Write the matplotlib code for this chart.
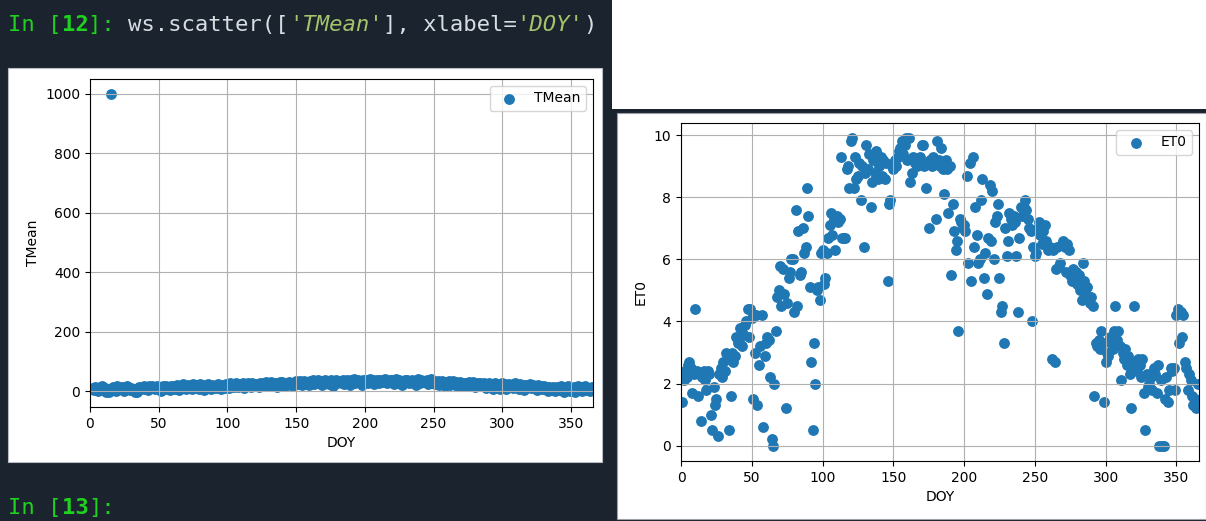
import matplotlib
matplotlib.use("Agg")
import matplotlib.pyplot as plt
from matplotlib.patches import Rectangle

W, H = 1206, 521
DARK = "#1b232e"
BLUE = "#1f77b4"

# ---------------- data ----------------
tmean_jan = [7, 12, 3, 15, 9, 0, 13, 10, 17, 5, 12, -2, 8, -3, 1000, 6, 14, 11, 2, 17,
             12, 6, 15, 9, 0, 13, 16, 10, 4, 12, 8]
tmean_feb = [3, -3, -2, 10, 15, 6, 12, 17, 8, 13, 4, 16, 10, 18, 12, 6, 14, 17, 8, 13,
             2, 16, 11, 19, 9, 15, 5, 17]
tmean_mar = [12, 18, 7, 21, 14, 4, 19, 11, 23, 16, 8, 21, 13, 19, 6, 24, 17, 10, 21, 9,
             23, 15, 19, 5, 22, 13, 25, 17, 9, 21, 15]
tmean_apr = [19, 10, 23, 15, 7, 21, 16, 11, 24, 19, 12, 26, 18, 22, 13, 27, 20, 14, 25, 17,
             28, 12, 23, 16, 26, 20, 15, 27, 21, 24]
tmean_may = [18, 25, 15, 29, 21, 26, 16, 30, 23, 19, 27, 31, 20, 24, 29, 14, 26, 30, 21, 32,
             24, 17, 29, 25, 31, 22, 27, 19, 30, 33, 24]
tmean_jun = [27, 33, 22, 30, 35, 25, 31, 20, 34, 28, 36, 23, 32, 29, 37, 26, 35, 22, 31, 38,
             27, 34, 24, 36, 30, 19, 35, 37, 28, 32]
tmean_jul = [35, 29, 38, 25, 34, 39, 31, 22, 37, 32, 40, 27, 35, 38, 30, 34, 20, 39, 31, 37,
             26, 35, 40, 32, 38, 24, 34, 39, 29, 36, 31]
tmean_aug = [37, 31, 40, 27, 35, 39, 30, 36, 24, 33, 40, 29, 37, 32, 21, 35, 39, 30, 36, 26,
             34, 38, 29, 35, 20, 32, 40, 27, 36, 30, 33]
tmean_sep = [30, 37, 25, 32, 41, 28, 34, 23, 31, 35, 22, 30, 34, 26, 18, 31, 25, 33, 21, 28,
             34, 23, 30, 19, 27, 32, 22, 29, 16, 26]
tmean_oct = [28, 22, 31, 18, 25, 30, 15, 24, 28, 20, 29, 16, 23, 27, 12, 22, 28, 18, 25, 9,
             21, 27, 15, 24, 6, 20, 26, 14, 23, 7, 19]
tmean_nov = [25, 16, 22, 11, 26, 18, 21, 8, 24, 15, 20, 5, 22, 14, 19, 25, 10, 21, 13, 17,
             3, 20, 12, 16, 7, 19, 9, 15, 1, 14]
tmean_dec = [12, 5, 15, 0, 10, 14, 3, 12, 17, 7, -2, 13, 9, 16, 2, 12, 6, 15, -3, 10,
             17, 4, 13, -1, 9, 16, 3, 12, 7, 0, 15]
tmean = (tmean_jan + tmean_feb + tmean_mar + tmean_apr + tmean_may + tmean_jun +
         tmean_jul + tmean_aug + tmean_sep + tmean_oct + tmean_nov + tmean_dec)

et0_001 = [1.4, 2.1, 2.4, 2.2, 2.6, 2.7, 2.5, 1.7, 2.3, 4.4, 2.4, 1.6, 2.3, 0.8, 2.2,
           2.4, 2.1, 1.8, 2.4, 2.3, 1.0, 0.5, 1.9, 1.3, 1.5, 0.3, 2.3, 2.5, 2.2, 2.7]
et0_031 = [2.4, 3.0, 2.8, 0.5, 1.6, 3.0, 2.7, 2.9, 3.5, 3.3, 3.4, 3.8, 3.2, 3.6, 3.9,
           4.0, 4.4, 3.5, 4.4, 4.1, 1.5, 3.0, 4.2, 1.3, 2.6, 3.2, 4.2, 0.6, 2.9, 3.3]
et0_061 = [3.5, 3.4, 2.2, 0.2, 0.0, 2.0, 3.7, 4.8, 5.0, 5.8, 4.5, 5.7, 4.9, 1.2, 4.6,
           5.4, 5.6, 6.0, 6.0, 4.3, 7.6, 4.5, 6.9, 5.5, 5.6, 7.0, 6.2, 6.4, 8.3, 7.4]
et0_091 = [5.1, 2.7, 0.5, 3.3, 2.0, 5.0, 5.1, 4.7, 6.2, 6.3, 5.2, 5.4, 6.2, 6.7, 7.1,
           7.5, 6.8, 7.3, 6.3, 7.4, 7.2, 7.3, 9.3, 6.7, 6.7, 6.7, 8.9, 9.0, 8.3, 9.8]
et0_121 = [9.9, 8.3, 9.3, 8.6, 8.7, 9.1, 7.9, 9.0, 6.4, 8.8, 9.7, 8.9, 9.4, 7.7, 8.5,
           9.2, 8.8, 9.5, 8.6, 9.0, 9.3, 8.7, 9.2, 8.6, 9.1, 5.3, 7.8, 7.9, 9.0, 8.9]
et0_151 = [9.2, 9.0, 9.3, 9.5, 9.6, 9.8, 9.4, 9.7, 9.9, 9.2, 9.9, 8.5, 8.8, 9.3, 9.1,
           9.2, 9.0, 9.1, 9.3, 9.7, 9.7, 9.0, 8.3, 9.1, 7.0, 9.2, 9.0, 9.3, 9.1, 7.3]
et0_181 = [9.8, 9.2, 9.0, 9.6, 8.9, 8.1, 9.2, 8.9, 7.5, 9.0, 5.5, 7.8, 6.9, 6.3, 6.6,
           3.7, 7.3, 7.2, 7.0, 7.1, 6.9, 8.7, 5.9, 9.1, 5.3, 9.3, 6.4, 7.7, 6.8, 5.9]
et0_211 = [6.0, 7.9, 8.6, 5.4, 6.2, 4.9, 6.7, 8.4, 6.6, 8.2, 6.0, 7.2, 7.4, 7.8, 5.4,
           4.3, 4.5, 3.3, 7.0, 6.1, 6.6, 7.5, 7.3, 7.1, 7.4, 7.2, 6.1, 4.3, 6.7, 7.7]
et0_241 = [7.4, 7.7, 7.9, 7.6, 7.3, 7.0, 6.9, 4.0, 6.4, 6.1, 6.2, 7.0, 7.2, 6.8, 6.5,
           6.9, 7.1, 6.6, 6.3, 6.4, 6.4, 2.8, 6.3, 2.7, 5.7, 6.4, 5.8, 5.9, 6.5, 6.6]
et0_271 = [6.4, 5.6, 6.5, 6.3, 5.5, 5.3, 5.7, 5.4, 5.6, 5.2, 5.5, 5.0, 4.7, 5.9, 5.3,
           4.9, 5.1, 4.8, 4.6, 4.8, 4.5, 1.6, 3.3, 3.2, 3.4, 3.1, 3.7, 3.3, 1.4, 2.7]
et0_301 = [3.0, 2.9, 3.5, 3.3, 3.1, 3.7, 4.5, 3.4, 3.7, 3.2, 2.1, 3.0, 2.8, 3.1, 2.6,
           2.9, 2.3, 1.2, 2.5, 4.5, 2.7, 2.4, 2.8, 2.6, 2.2, 2.8, 1.7, 0.5, 2.3, 1.9]
et0_331 = [2.0, 2.2, 1.8, 2.5, 2.3, 1.7, 2.6, 0.0, 2.1, 0.0, 0.0, 1.5, 2.2, 1.4, 1.8,
           2.5, 2.4, 2.5, 1.8, 4.2, 4.4, 3.3, 4.3, 3.5, 4.2, 2.7, 2.5, 1.8, 2.3, 2.1,
           1.6, 1.3, 1.5, 1.2, 2.0]
et0 = (et0_001 + et0_031 + et0_061 + et0_091 + et0_121 + et0_151 + et0_181 +
       et0_211 + et0_241 + et0_271 + et0_301 + et0_331)

doy_t = list(range(1, len(tmean) + 1))
doy_e = list(range(1, len(et0) + 1))
xticks = [0, 50, 100, 150, 200, 250, 300, 350]

# ---------------- figure ----------------
fig = plt.figure(figsize=(W / 100, H / 100), dpi=100, facecolor=DARK)


def px_rect(x0, y0, x1, y1, **kw):
    r = Rectangle((x0 / W, 1 - y1 / H), (x1 - x0) / W, (y1 - y0) / H,
                  transform=fig.transFigure, **kw)
    fig.patches.append(r)


# white area top right (page behind)
px_rect(612, 0, W, 109, facecolor="white", edgecolor="none", zorder=-5)
# left output panel
px_rect(8, 68, 602, 462, facecolor="white", edgecolor="#b8bcc2", linewidth=0.8, zorder=-5)
# right screenshot panel
px_rect(617, 113, W, 519, facecolor="white", edgecolor="#9aa0a6", linewidth=0.8, zorder=-5)


def ax_rect(x0, y0, x1, y1):
    return [x0 / W, 1 - y1 / H, (x1 - x0) / W, (y1 - y0) / H]


MS = 46

# ---- left: TMean ----
ax1 = fig.add_axes(ax_rect(90, 79, 593, 407))
ax1.scatter(doy_t, tmean, s=MS, color=BLUE, label="TMean")
ax1.set_xlim(0, 366)
ax1.set_xticks(xticks)
ax1.set_yticks([0, 200, 400, 600, 800, 1000])
ax1.grid(True)
ax1.set_xlabel("DOY", fontsize=10)
ax1.set_ylabel("TMean", fontsize=10)
ax1.legend(loc="upper right", fontsize=10)

# ---- right: ET0 ----
ax2 = fig.add_axes(ax_rect(681, 123, 1199, 461))
ax2.scatter(doy_e, et0, s=MS, color=BLUE, label="ET0")
ax2.set_xlim(0, 366)
ax2.set_xticks(xticks)
ax2.set_yticks([0, 2, 4, 6, 8, 10])
ax2.grid(True)
ax2.set_xlabel("DOY", fontsize=10)
ax2.set_ylabel("ET0", fontsize=10)
ax2.legend(loc="upper right", fontsize=10)

# ---------------- notebook text ----------------
FS = 16
CW = 0.6021 * FS * 100 / 72
GREEN = "#1fd21f"
CODE = "#d8dde3"
STR = "#a3c46a"


def code_line(x0, y, parts):
    x = x0
    for s, color, style, weight in parts:
        fig.text(x / W, 1 - y / H, s, color=color, fontstyle=style, fontweight=weight,
                 family="DejaVu Sans Mono", fontsize=FS, va="center", ha="left")
        x += len(s) * CW


code_line(8, 25, [("In [", GREEN, "normal", "normal"),
                  ("12", GREEN, "normal", "bold"),
                  ("]: ", GREEN, "normal", "normal"),
                  ("ws.scatter([", CODE, "normal", "normal"),
                  ("'TMean'", STR, "italic", "normal"),
                  ("], xlabel=", CODE, "normal", "normal"),
                  ("'DOY'", STR, "italic", "normal"),
                  (")", CODE, "normal", "normal")])
code_line(8, 508, [("In [", GREEN, "normal", "normal"),
                   ("13", GREEN, "normal", "bold"),
                   ("]:", GREEN, "normal", "normal")])

fig.savefig("out.png", dpi=100, facecolor=DARK)
